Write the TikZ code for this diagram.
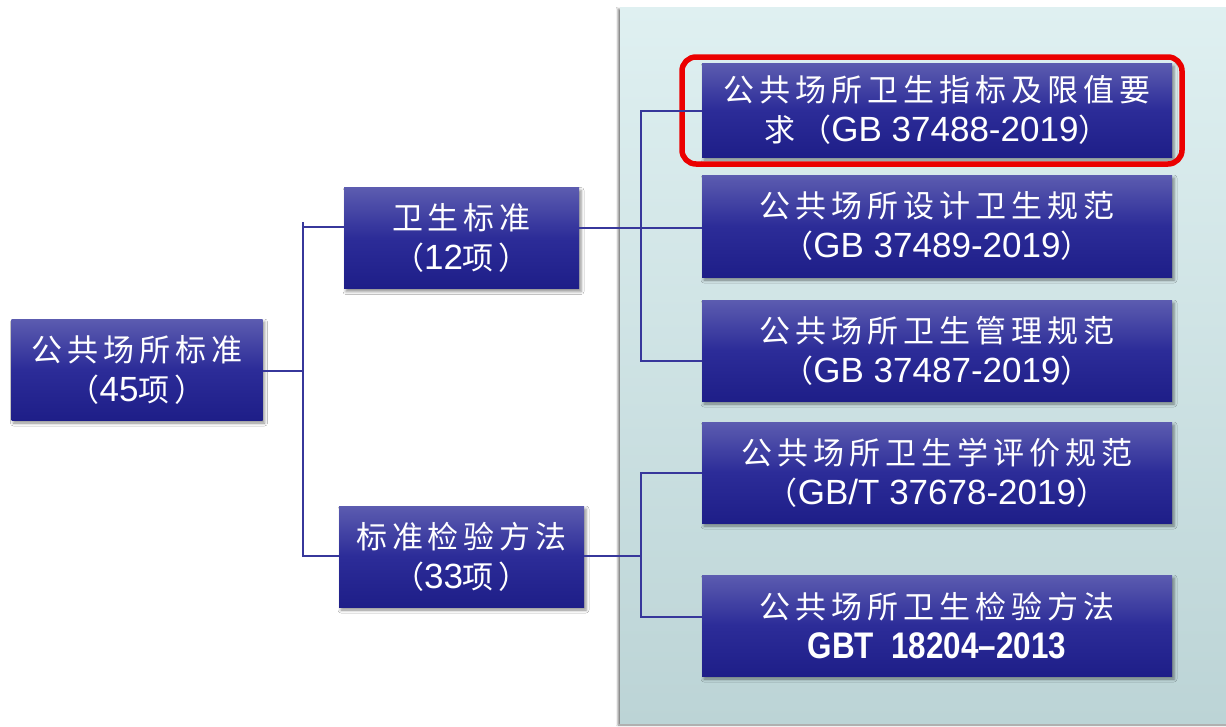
\documentclass[tikz,border=0pt]{standalone}
\usepackage{fontspec}
\setmainfont{Liberation Sans}
\newfontfamily\cjk[LetterSpace=16]{Noto Sans CJK SC}
\newfontfamily\lat{Liberation Sans}
\newfontfamily\latn[FakeStretch=0.85]{Liberation Sans}
\usetikzlibrary{shadows.blur}
\definecolor{boxtop}{RGB}{92,92,176}
\definecolor{boxmid}{RGB}{44,44,152}
\definecolor{boxbot}{RGB}{30,30,136}
\definecolor{conncol}{RGB}{55,55,155}
\definecolor{paneltop}{RGB}{223,240,241}
\definecolor{panelbot}{RGB}{188,212,214}
\definecolor{hilite}{RGB}{235,0,0}
\newcommand\La[1]{{\lat\fontsize{35pt}{40pt}\selectfont #1}}
\tikzset{
  boxnode/.style={shade, top color=boxtop, bottom color=boxbot, middle color=boxmid,
    text=white, inner sep=0pt, align=center,
    font=\cjk\fontsize{31pt}{40pt}\selectfont,
    blur shadow={shadow xshift=2pt, shadow yshift=-3pt, shadow blur radius=3pt, shadow opacity=45}},
  conn/.style={draw=conncol, line width=2pt},
  panel/.style={top color=paneltop, bottom color=panelbot,
    blur shadow={shadow xshift=-2pt, shadow yshift=-2pt, shadow blur radius=2pt, shadow opacity=50}},
  hl/.style={draw=hilite, line width=5.5pt, rounded corners=14pt}
}
\begin{document}
\begin{tikzpicture}[x=1pt,y=-1pt]
\useasboundingbox (0,0) rectangle (1226,726);
\fill[white] (0,0) rectangle (1226,726);
% background panel
\path[panel] (620,7) rectangle (1232,723);

% nodes
\node[boxnode, minimum width=251pt, minimum height=101pt] (root) at (137,369.5)
  {公共场所标准\\（\La{45}项）};
\node[boxnode, minimum width=235pt, minimum height=101pt] (A) at (461.5,238)
  {卫生标准\\（\La{12}项）};
\node[boxnode, minimum width=245pt, minimum height=101pt] (B) at (461.5,556.5)
  {标准检验方法\\（\La{33}项）};

\node[boxnode, minimum width=470pt, minimum height=94pt] (b1) at (937,110)
  {公共场所卫生指标及限值要\\求（\La{GB 37488-2019}）};
\node[boxnode, minimum width=470pt, minimum height=102pt] (b2) at (937,226)
  {公共场所设计卫生规范\\（\La{GB 37489-2019}）};
\node[boxnode, minimum width=470pt, minimum height=101pt] (b3) at (937,350.5)
  {公共场所卫生管理规范\\（\La{GB 37487-2019}）};
\node[boxnode, minimum width=470pt, minimum height=101pt] (b4) at (937,472.5)
  {公共场所卫生学评价规范\\（\La{GB/T 37678-2019}）};
\node[boxnode, minimum width=470pt, minimum height=101pt] (b5) at (937,625.5)
  {公共场所卫生检验方法\\{\latn\bfseries\fontsize{37pt}{40pt}\selectfont GBT\ \ 18204–2013}};

% highlight
\node[hl, minimum width=500pt, minimum height=107pt, inner sep=0pt] (hl1) at (932,110.5) {};

% junction coordinates
\coordinate (tTop) at (303,222);
\coordinate (tA) at (303,227);
\coordinate (tR) at (303,371);
\coordinate (tB) at (303,556);
\coordinate (rTop) at (641,111);
\coordinate (rA) at (641,228);
\coordinate (r3) at (641,361);
\coordinate (r4) at (641,473);
\coordinate (rB) at (641,556);
\coordinate (r5) at (641,617);

% connectors
\draw[conn] (root.east |- tR) -- (tR);
\draw[conn] (tTop) -- (tB) -- (B.west |- tB);
\draw[conn] (tA) -- (A.west |- tA);
\draw[conn] (A.east |- rA) -- (rA);
\draw[conn] (b1.west |- rTop) -- (rTop) -- (r3) -- (b3.west |- r3);
\draw[conn] (rA) -- (b2.west |- rA);
\draw[conn] (B.east |- rB) -- (rB);
\draw[conn] (b4.west |- r4) -- (r4) -- (r5) -- (b5.west |- r5);
\end{tikzpicture}
\end{document}
